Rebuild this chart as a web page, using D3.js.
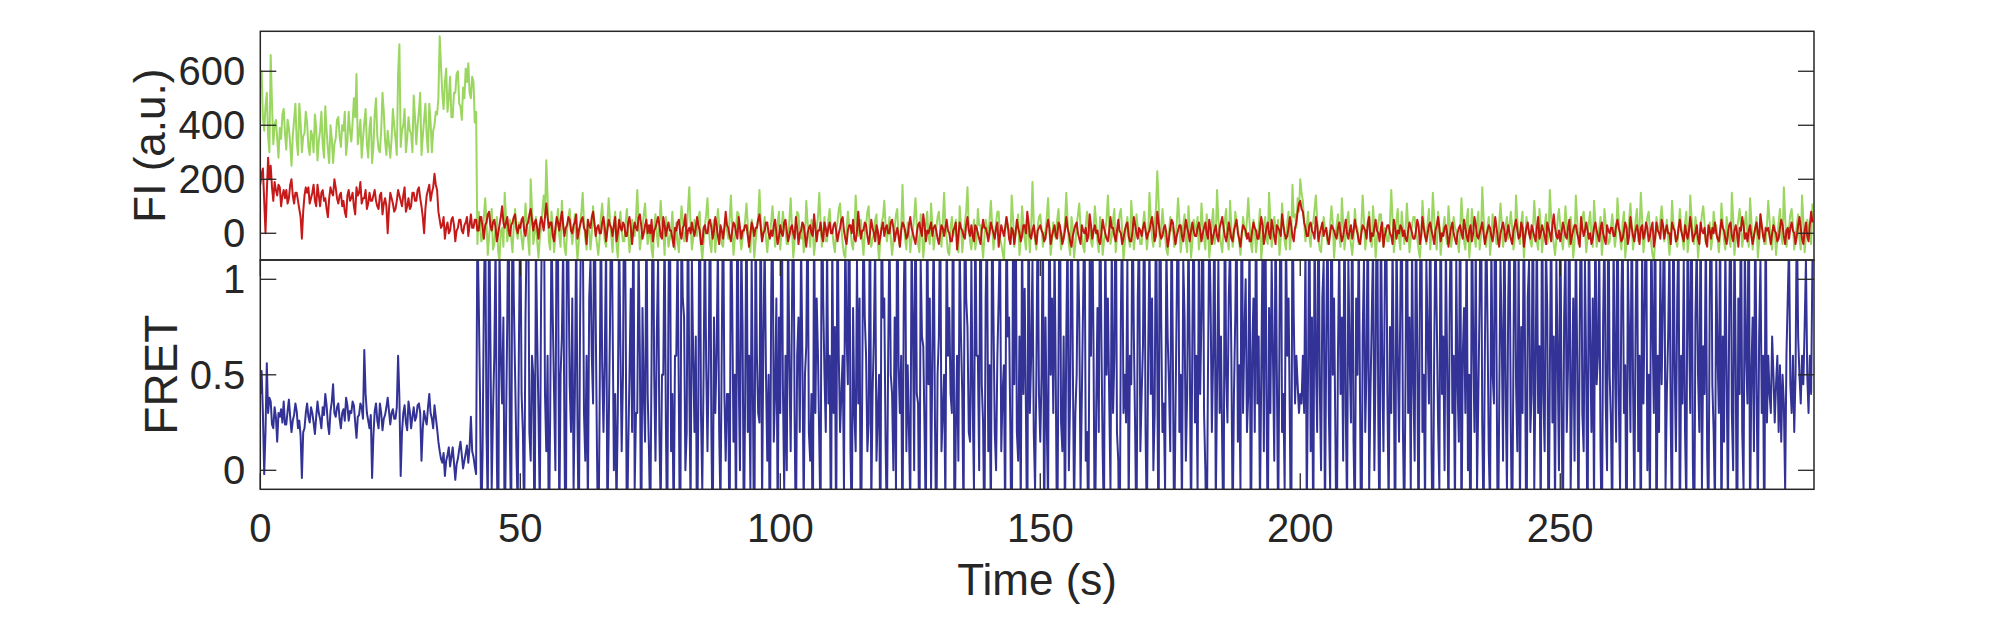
<!DOCTYPE html>
<html>
<head>
<meta charset="utf-8">
<script src="https://cdn.jsdelivr.net/npm/d3@7"></script>
<style>
html,body{margin:0;padding:0;background:#fff;}
svg{display:block;}
text{font-family:"Liberation Sans",Arial,Helvetica,sans-serif;fill:#262626;}
</style>
</head>
<body>
<svg id="chart" width="2005" height="625"></svg>
<script>
// ---- data: one row per 5 s, samples every 0.25 s ----
const rowSpan = 5;
const frameStep = 0.25;
const timeTicks = [0, 50, 100, 150, 200, 250];
const fiTicks = [0, 200, 400, 600];
const fretTicks = [0, 0.5, 1];

// donor (green) intensity, a.u.
const donorRows = [
[560,600,430,380,470,520,360,300,660,480,330,400,420,350,280,390,350,440,460,370],
[310,420,390,330,250,360,420,480,340,290,480,410,300,360,370,450,410,320,290,380],
[360,300,440,390,270,340,380,450,330,280,470,380,310,260,400,350,260,330,350,420],
[430,360,320,400,380,450,290,340,450,380,340,410,500,430,590,330,370,420,280,350],
[410,460,330,280,390,430,260,320,440,500,360,310,300,380,520,450,340,290,380,330],
[280,350,460,400,350,290,590,700,320,380,400,460,300,350,430,380,370,300,510,430],
[330,400,450,520,290,360,420,480,360,300,480,410,300,380,400,450,440,500,730,620],
[520,460,560,610,450,500,580,430,430,520,520,590,600,480,470,420,540,500,610,560],
[630,520,500,580,560,410,450,-40,80,40,-30,-20,60,130,40,-80,-10,40,90,-60],
[-40,20,60,-70,-100,10,20,-50,150,60,-30,10,50,-20,-70,30,90,10,-20,40],
[30,-20,-60,10,110,40,-20,-80,200,90,-40,0,60,-30,-90,-20,20,80,140,60],
[270,130,-30,-60,80,20,-70,-10,40,90,-10,-50,120,30,-50,-80,10,60,90,20],
[-40,20,70,-20,-100,-30,30,80,150,40,-20,-60,50,10,-60,0,100,30,0,-40],
[-80,-20,60,110,20,-30,-50,40,130,50,-10,-70,40,80,-40,-90,20,80,10,-30],
[-30,40,90,10,-70,-20,50,0,-10,60,160,40,-60,-20,20,70,110,20,-40,-10],
[30,-60,-90,20,70,0,-50,30,120,40,10,-80,60,20,-50,-20,10,80,-20,-60],
[40,-30,-70,20,100,50,-30,0,10,90,170,30,-60,-20,50,10,-10,60,80,-40],
[-100,-30,30,70,130,20,-40,-70,20,50,-70,10,90,30,0,-40,-50,20,60,10],
[-20,50,140,30,-80,-20,30,80,70,-10,-60,-20,10,50,110,30,-40,-70,50,20],
[-90,-30,20,60,160,40,-30,10,60,-20,-70,-10,0,40,100,30,-50,-20,40,80],
[-60,10,80,30,10,-40,-40,50,130,20,-90,-30,30,80,70,-10,-20,40,-70,-20],
[120,40,0,-50,50,20,-80,-30,20,60,150,40,-50,10,60,-30,-30,50,90,10],
[10,-40,-70,10,40,90,110,20,-40,-80,-90,10,80,30,20,-40,-60,10,140,40],
[-10,30,50,-20,-80,0,30,80,100,-10,-50,-20,0,50,70,-30,-100,-20,40,60],
[120,30,-30,10,60,-20,-80,-30,20,70,90,-20,-50,10,180,40,-20,-60,40,10],
[-70,-20,10,60,130,30,-40,-70,70,10,-90,-30,30,80,-10,-40,110,30,-60,-10],
[20,60,80,10,-50,40,150,30,-20,-70,-80,20,60,-10,10,50,-40,-70,100,30],
[-70,-10,40,80,170,20,-30,-60,0,50,-60,-20,90,30,30,-30,-90,-20,50,20],
[-10,50,120,30,-60,-10,40,80,80,-20,-40,-70,-100,10,60,20,10,-40,140,60],
[-50,0,30,70,-80,-20,100,40,-20,-60,50,10,-70,20,190,40,-30,-60,20,60],
[70,20,-50,-10,10,60,130,20,-80,-30,40,0,-20,50,90,10,-60,-20,0,40],
[150,50,-40,-80,60,20,-90,-40,30,70,110,20,-10,-50,-70,30,80,20,20,-30],
[-50,10,100,40,-30,-70,60,20,-80,-30,10,50,140,40,-40,-10,50,90,-70,-20],
[20,70,90,10,-100,-40,30,60,-20,-50,120,40,-60,-10,70,20,0,-40,-40,30],
[80,20,-60,-10,150,60,-20,-50,40,90,230,120,-50,10,90,30,-10,-60,-80,0],
[60,10,20,-50,-40,40,130,50,-70,-20,30,70,-30,-70,100,20,-90,-30,50,20],
[10,60,-60,-20,110,30,-20,-60,70,20,-90,-30,40,90,-40,-10,160,50,0,-40],
[-70,10,50,90,-30,-60,120,20,-50,-10,80,40,20,-30,-80,-10,60,20,-10,50],
[130,40,-40,-70,50,10,-70,-20,20,90,-100,-30,30,60,-20,-40,150,50,-50,-10],
[60,20,0,50,-80,-20,110,40,-30,-60,40,80,-60,-10,180,60,70,20,130,80],
[200,150,120,40,-30,20,80,-10,-50,30,40,90,140,50,-20,-60,-70,10,60,20],
[10,-40,-40,30,100,40,-90,-20,30,70,-10,-50,130,40,-60,-10,50,80,0,-40],
[-80,-20,90,30,20,-40,-40,30,140,50,-60,-10,40,80,-10,-50,100,20,-90,-20],
[30,70,70,-10,-50,20,10,-30,-30,40,160,50,-70,-20,50,90,-20,-60,80,20],
[-40,10,110,30,-70,-20,30,60,60,10,-20,-60,-90,-20,120,40,0,-40,40,90],
[-60,10,150,60,-30,-60,80,30,-80,-20,20,60,-10,-40,100,30,-50,-10,60,20],
[10,-30,-70,10,130,40,-30,-60,50,90,-90,-30,90,30,-10,-50,40,80,-60,-10],
[170,60,-20,-50,20,60,-80,-20,70,20,0,-40,-40,30,110,40,-50,-10,30,60],
[-20,30,80,20,-60,-20,140,50,-10,-40,40,80,-90,-20,60,20,10,-30,-50,10],
[120,40,-30,-60,90,30,-70,-10,20,70,-40,-10,160,60,0,-40,-80,-20,50,90],
[30,-20,-60,10,100,30,-20,-50,60,10,-90,-30,140,50,-40,-10,10,60,80,20],
[-70,-20,40,80,-10,-50,120,40,-50,-10,20,60,-80,-20,90,30,0,-40,-30,20],
[70,20,-50,-10,130,50,-20,-60,40,80,-90,-30,10,50,110,30,-60,-10,50,90],
[-30,20,150,50,-70,-20,20,60,80,10,-40,-80,-100,-30,60,20,0,50,100,40],
[-30,10,50,-20,-80,-20,120,40,10,-30,-50,20,90,30,-20,-60,40,80,-70,-20],
[140,60,-10,-40,60,20,-90,-30,20,70,100,40,-40,-10,0,40,-60,-20,80,30],
[30,-20,-70,-10,110,40,-30,-60,60,20,-20,-50,150,60,-80,-20,10,50,90,30],
[-50,-10,40,80,-10,-50,130,50,-60,-10,20,60,-90,-30,70,20,0,-40,-40,30],
[120,50,-30,-60,60,20,-80,-20,40,90,-10,-40,170,60,-50,-10,20,70,90,30],
[-60,-10,30,70,-20,-60,140,50,-70,-10,50,20,0,-40,110]
];

// acceptor (red) intensity, a.u.
const acceptorRows = [
[180,220,240,120,0,150,280,200,250,170,120,190,160,140,180,170,100,140,160,130],
[160,110,130,180,200,140,110,150,150,120,90,60,-20,80,140,170,150,170,110,130],
[150,180,120,100,180,140,100,150,160,120,130,90,60,130,170,150,140,200,170,130],
[110,140,150,100,120,80,60,140,160,120,130,150,100,70,170,140,150,190,110,130],
[130,160,90,110,150,120,120,140,160,120,100,90,140,150,70,110,130,100,0,90],
[150,130,110,80,90,120,160,140,120,100,140,170,80,100,130,90,100,150,150,120],
[120,160,170,130,100,60,0,90,140,160,180,120,150,170,220,180,160,80,50,20],
[30,60,-20,20,40,0,10,50,60,30,-30,10,20,50,50,10,0,30,40,60],
[-10,30,70,20,20,50,50,10,10,60,60,20,-20,30,40,70,80,30,10,40],
[50,20,-30,0,30,60,100,40,20,40,60,10,-10,30,40,60,70,20,0,30],
[20,50,60,10,-10,30,40,70,90,50,10,40,50,20,-20,30,60,40,10,60],
[110,60,20,40,40,-10,-30,20,60,40,10,50,80,30,-10,20,30,60,50,10],
[0,30,40,70,-20,10,30,50,60,20,10,-40,50,30,20,60,80,40,-10,20],
[30,0,0,40,60,20,-30,10,50,30,20,-10,30,60,-30,0,50,20,10,40],
[30,-10,-10,40,60,20,-40,10,40,20,10,60,70,30,-20,0,30,50,0,30],
[0,50,-30,10,20,40,60,30,-10,-20,60,30,-10,20,40,10,10,-20,-50,20],
[10,40,50,0,-20,20,30,70,-30,10,20,0,40,10,-10,20,60,30,10,-40],
[-40,20,30,0,0,40,50,20,-20,10,60,30,-10,-40,30,10,-20,20,80,30],
[20,-10,-30,10,40,30,0,-20,60,20,-20,10,10,30,30,-10,-50,0,40,20],
[-10,20,20,50,70,20,-30,0,10,40,40,0,-20,10,-10,30,50,0,-40,-10],
[30,0,-10,40,50,10,-30,-10,20,30,0,-20,60,20,-40,0,10,40,30,-10],
[-50,0,20,30,0,-10,70,20,-30,10,10,40,-10,-30,40,20,-10,20,40,0],
[0,30,40,10,-30,0,20,50,60,10,-20,-40,10,30,30,0,50,-20,-30,10],
[80,20,-20,10,10,40,30,-10,-40,0,50,20,0,-30,30,10,-40,-10,20,40],
[-10,20,30,0,0,40,50,20,-30,0,20,-10,-50,10,40,30,10,-20,-10,30],
[60,20,0,-20,-40,0,30,40,10,-10,70,30,-30,10,0,20,40,-10,20,30],
[10,-20,-40,0,30,20,-10,20,50,10,0,-30,-30,10,20,40,-60,-10,40,20],
[10,-10,-20,30,60,10,-10,30,-10,-30,30,20,0,-20,-40,10,50,20,20,0],
[-30,0,40,20,0,-20,20,40,-50,-10,30,10,-10,20,60,30,-20,-40,20,10],
[-40,0,50,20,0,-30,-10,30,30,0,80,40,-10,-20,10,30,-10,-40,10,20],
[30,10,0,-30,-20,20,50,20,-40,-10,10,30,-10,-20,40,30,0,-40,-20,10],
[60,20,0,-30,-50,-10,10,30,40,0,-20,-40,30,10,0,20,-30,-10,70,30],
[-20,10,30,0,10,-30,-40,0,50,20,0,-20,-30,10,60,20,20,-10,-30,10],
[50,10,0,-40,-20,10,30,40,-10,-30,-30,10,60,30,0,-20,20,10,-10,20],
[40,10,-20,0,10,40,60,20,-30,-10,80,40,0,-20,-10,20,30,0,-50,-20],
[20,50,40,0,-40,-10,10,30,30,-10,-30,10,50,20,0,-30,10,40,10,-10],
[-10,20,40,10,-30,0,20,40,0,-20,50,20,-40,-10,10,30,-10,-30,20,40],
[60,20,-10,-30,0,40,10,-20,-30,10,30,50,0,-20,-50,0,30,20,10,-20],
[0,-30,-30,10,40,20,10,-20,-20,20,60,30,-40,-10,20,40,0,-20,50,20],
[-10,-40,30,20,10,-10,70,30,0,-20,-10,20,60,30,-10,-30,20,40,80,110],
[120,90,80,40,20,-10,-10,30,40,10,0,-20,60,30,-30,0,20,40,-10,10],
[20,-20,-40,0,30,20,10,-10,-20,20,40,0,-30,-10,20,50,0,-20,10,30],
[-20,10,50,20,0,-30,-40,0,30,20,10,-20,40,60,-30,0,-10,20,50,10],
[0,-30,20,40,-50,-10,10,30,30,0,-10,-40,50,20,-20,10,0,30,20,-10],
[10,-20,-30,10,40,20,0,-20,-20,10,50,30,-40,-10,60,20,-10,-30,0,30],
[40,10,-10,-40,10,30,60,20,-30,0,-10,20,30,0,-50,-10,20,40,0,-20],
[-40,0,20,30,0,-20,50,20,-10,-30,10,30,-30,0,60,30,-10,-20,0,20],
[40,0,-40,-10,10,30,20,-10,-30,10,60,20,-20,-50,0,20,40,10,-30,0],
[30,0,-20,-40,10,30,50,10,-20,-10,40,20,-50,-10,20,40,0,-20,30,10],
[-10,-30,20,60,-20,0,30,10,-10,-40,40,20,0,-30,30,70,20,-10,-20,10],
[-30,0,40,20,-10,-20,20,50,-40,-10,10,30,30,0,-20,-50,60,20,-10,10],
[40,10,-20,0,-40,-20,20,40,10,-10,-30,20,40,0,-20,-40,30,10,0,20],
[20,-10,-10,30,50,20,0,-30,-20,10,40,20,-40,-10,60,20,-10,-30,10,30],
[0,-40,20,30,-20,0,40,20,-30,-10,20,40,-50,-20,40,10,0,-20,50,30],
[-20,10,30,0,0,-40,40,20,10,-30,-20,20,50,10,-10,-30,30,0,-20,10],
[60,20,-30,-10,0,30,-20,-40,40,10,0,20,-30,-50,30,10,-20,20,0,40],
[0,-20,-30,10,50,20,10,-20,-40,0,30,40,-10,-30,10,30,0,-50,20,10],
[60,30,-20,0,-30,10,30,-10,-40,-10,20,40,0,-20,70,30,-10,-30,20,10],
[20,-10,-40,0,30,10,0,-30,-20,20,50,30,-10,-40,10,20,-20,20,40,10],
[0,-40,-10,30,60,20,-20,-40,10,40,-10,-30,30,80,40]
];

// FRET efficiency
const fretRows = [
[0.40,0.52,0.30,-0.02,0.20,0.56,0.30,0.38,0.36,0.24,0.22,0.33,0.28,0.15,0.30,0.28,0.32,0.25,0.36,0.24],
[0.24,0.31,0.37,0.28,0.20,0.26,0.29,0.35,0.31,0.22,0.26,0.18,-0.04,0.20,0.22,0.30,0.35,0.28,0.25,0.33],
[0.30,0.25,0.19,0.28,0.36,0.30,0.27,0.22,0.33,0.29,0.40,0.34,0.24,0.19,0.31,0.36,0.45,0.30,0.28,0.33],
[0.35,0.27,0.22,0.30,0.32,0.26,0.38,0.34,0.26,0.31,0.30,0.36,0.34,0.25,0.17,0.28,0.29,0.35,0.33,0.27],
[0.63,0.40,0.30,0.26,0.22,0.29,-0.04,0.18,0.31,0.35,0.26,0.22,0.35,0.30,0.21,0.27,0.29,0.33,0.38,0.31],
[0.24,0.30,0.32,0.27,0.27,0.33,0.60,0.38,-0.03,0.20,0.30,0.34,0.25,0.21,0.36,0.31,0.22,0.28,0.33,0.26],
[0.28,0.34,0.35,0.30,0.05,0.22,0.31,0.27,0.24,0.33,0.40,0.30,0.27,0.22,0.34,0.28,0.22,0.15,0.10,0.06],
[0.04,0.09,-0.03,0.05,0.08,0.12,0.02,0.07,0.12,0.04,-0.05,0.03,0.06,0.11,0.15,0.08,0.01,0.05,0.09,0.13],
[0.04,0.12,0.28,0.10,0.07,0.02,-0.02,1.3,0.9,0.4,-0.3,0.1,0.9,1.4,0.2,-0.2,1.5,0.7,-0.1,0.3],
[0.6,1.2,0.05,-0.5,1.2,0.6,0.35,0.8,-0.4,0.2,0.8,1.6,0.15,-0.3,1.6,0.9,0.5,0.1,-0.2,0.7],
[1.4,0.4,0.2,-0.3,0.8,1.3,1.6,0.2,0.05,0.6,0.5,-0.5,1.2,0.7,0.3,-0.2,0.9,1.5,1.8,0.4],
[0.1,0.6,-0.4,0.3,1.3,0.8,0.4,0.0,1.5,1.2,-0.3,0.5,0.7,1.2,0.15,-0.6,1.6,1.1,0.45,0.2],
[0.9,-0.1,0.4,1.3,0.25,-0.4,0.8,1.5,1.4,0.3,0.05,0.6,-0.2,0.9,1.1,0.6,0.35,1.7,0.8,0.1],
[-0.5,0.3,1.4,0.55,0.2,0.6,1.2,-0.3,0.2,0.75,1.6,0.8,0.0,0.4,-0.2,0.3,1.3,0.65,0.1,0.5],
[1.8,0.9,-0.4,0.1,0.5,0.95,0.2,1.5,-0.1,0.3,0.3,1.2,0.6,-0.5,0.85,0.4,0.15,1.4,0.4,0.1],
[-0.3,0.6,1.7,0.5,0.05,0.7,1.1,0.2,-0.2,0.5,0.5,1.3,0.25,-0.4,0.9,1.6,0.1,0.4,-0.3,0.6],
[0.6,1.2,0.35,-0.6,1.4,0.9,0.8,0.0,0.2,1.5,0.45,-0.2,1.1,0.6,0.2,0.7,-0.5,0.4,1.8,0.3],
[-0.1,0.5,1.3,0.55,0.1,0.6,1.6,0.2,-0.4,0.8,0.3,0.6,1.2,0.2,-0.2,0.65,1.5,0.4,0.05,0.4],
[0.4,-0.5,1.4,0.9,0.15,0.5,-0.3,1.7,0.5,0.0,1.2,0.75,-0.4,0.4,1.5,0.2,0.6,-0.1,1.1,0.35],
[-0.6,1.4,0.6,0.3,0.25,1.6,-0.2,0.7,1.2,0.5,0.05,0.5,-0.5,0.9,1.5,0.15,0.4,0.9,-0.3,0.8],
[0.3,1.7,0.45,-0.1,0.6,0.0,1.3,0.55,0.1,0.85,1.6,0.3,-0.4,0.6,0.8,0.2,1.2,0.6,-0.2,0.5],
[0.65,1.5,0.2,0.05,0.4,-0.5,1.4,0.3,0.9,0.6,0.15,-0.3,1.7,0.9,0.5,0.2,1.2,0.35,0.6,-0.4],
[1.2,0.3,0.75,-0.4,1.5,0.6,0.2,0.4,0.6,-0.1,1.3,0.7,0.45,1.8,0.1,-0.3,0.85,0.3,0.1,1.1],
[0.35,0.9,-0.6,0.4,1.4,0.8,0.6,0.1,0.25,1.6,-0.2,0.4,0.7,1.2,0.05,0.3,0.5,-0.5,1.5,0.8],
[0.9,0.15,-0.3,0.6,1.3,0.5,0.4,0.0,0.8,-0.1,1.7,0.55,0.3,0.6,-0.4,0.9,1.4,0.1,0.55,0.2],
[-0.2,1.2,0.8,0.0,1.6,0.4,0.35,-0.5,1.1,0.7,0.65,0.2,-0.3,1.5,0.45,0.9,-0.1,0.6,1.3,0.25],
[-0.4,0.5,0.7,1.5,0.1,0.3,0.5,-0.2,1.3,0.6,0.85,0.4,0.3,1.8,-0.5,0.2,0.6,0.05,1.2,0.7],
[0.4,-0.3,1.6,0.9,0.75,0.2,0.15,1.1,0.35,-0.1,1.4,0.6,0.6,0.0,1.7,0.45,0.25,-0.4,0.9,1.3],
[0.1,0.55,-0.3,1.5,0.8,0.2,0.0,0.6,0.9,1.3,0.1,0.4,0.55,-0.3,1.5,0.7,0.8,0.2,-0.6,1.2],
[0.45,1.6,0.2,0.05,0.7,-0.2,1.3,0.4,0.95,0.3,-0.5,1.6,0.3,0.6,1.1,0.2,-0.1,0.5,1.4,0.4],
[0.15,0.5,1.4,-0.4,0.8,0.25,-0.2,1.7,0.5,0.9,0.3,1.2,0.4,-0.5,0.6,1.8,0.25,0.1,0.7,-0.3],
[0.7,1.3,0.0,0.4,1.6,0.6,-0.2,0.3,0.5,1.2,0.8,-0.1,0.4,0.9,1.5,0.05,0.2,-0.4,1.1,0.6],
[1.4,0.6,-0.5,0.3,0.85,0.2,1.6,0.7,0.1,-0.3,1.3,0.5,0.9,0.4,-0.1,1.2,0.3,0.6,1.7,0.2],
[0.05,-0.6,0.8,1.4,0.3,0.5,0.25,1.1,-0.2,0.6,0.45,1.5,0.7,0.2,-0.4,0.9,1.3,0.1,0.4,0.65],
[1.6,0.2,-0.3,0.6,1.2,0.4,0.9,0.0,0.3,1.5,0.55,-0.5,1.8,0.8,0.2,0.35,-0.1,1.2,0.7,0.45],
[0.1,1.4,0.6,-0.4,0.3,0.9,1.6,0.2,0.5,-0.2,1.1,0.8,0.05,0.4,1.3,0.6,-0.3,0.7,1.5,0.25],
[0.6,-0.1,1.2,0.4,0.8,1.7,0.3,0.0,-0.5,0.5,1.3,0.9,0.2,0.6,1.5,-0.2,0.45,1.1,0.3,0.7],
[0.1,-0.4,1.6,0.5,0.25,0.9,1.2,0.6,-0.3,0.4,0.8,1.4,0.15,0.55,-0.1,1.8,0.3,0.7,1.0,0.2],
[0.4,1.3,-0.5,0.6,0.9,0.2,1.5,0.35,0.7,-0.2,0.5,1.2,0.1,1.6,0.4,-0.4,0.85,0.3,1.1,0.6],
[0.05,1.4,0.5,-0.3,0.7,1.7,0.2,0.4,-0.1,1.3,0.6,0.9,0.25,-0.6,1.5,0.8,0.35,0.6,0.45,0.3],
[0.4,0.35,0.6,0.3,1.2,-0.2,0.5,1.5,0.1,0.8,-0.4,1.3,0.6,0.2,1.6,0.45,0.0,0.9,1.1,-0.3],
[0.7,1.4,0.3,-0.1,1.7,0.5,0.9,0.2,-0.5,0.6,1.2,0.4,0.8,0.05,1.5,0.3,-0.2,1.1,0.6,0.25],
[1.6,0.15,-0.3,0.9,0.5,1.3,0.35,-0.6,0.7,1.1,0.2,0.55,1.5,-0.1,0.4,0.8,1.2,0.0,0.6,1.8],
[0.3,-0.4,1.4,0.6,0.1,0.95,1.6,0.4,-0.2,0.75,0.3,1.2,0.5,-0.5,1.3,0.6,0.15,0.9,1.5,0.2],
[-0.3,0.5,1.7,0.3,0.8,-0.1,1.2,0.45,0.05,1.4,0.65,-0.4,0.9,1.6,0.2,0.5,-0.2,1.1,0.7,0.35],
[1.5,0.1,-0.5,0.6,1.3,0.8,0.25,-0.1,1.6,0.4,0.7,0.0,1.2,0.55,-0.3,0.9,1.4,0.3,0.6,-0.2],
[1.1,0.45,0.15,1.7,-0.4,0.6,0.85,0.3,1.3,0.0,0.5,-0.6,1.5,0.7,0.2,1.2,-0.1,0.4,0.9,1.6],
[0.25,-0.3,0.6,1.4,0.8,0.1,-0.2,1.2,0.5,0.35,1.8,0.6,-0.5,0.3,1.1,0.7,0.05,1.5,0.4,-0.1],
[0.9,1.3,0.2,-0.4,0.6,1.6,0.45,0.1,1.2,-0.2,0.75,0.3,1.5,0.55,-0.6,0.9,1.1,0.2,0.4,1.7],
[-0.1,0.5,1.3,0.3,0.65,-0.3,1.6,0.4,0.1,1.2,0.85,-0.5,0.5,1.4,0.25,0.7,-0.2,1.1,0.6,0.0],
[1.5,0.35,-0.4,0.8,1.2,0.2,0.55,1.7,-0.1,0.4,0.9,0.05,1.3,0.6,-0.3,0.75,1.6,0.3,0.1,1.1],
[0.5,-0.5,1.4,0.7,0.2,0.9,-0.2,1.5,0.45,0.6,1.2,0.1,-0.4,0.8,1.3,0.35,0.0,1.6,0.5,0.25],
[-0.3,1.2,0.6,0.15,1.7,0.4,-0.1,0.9,1.3,0.3,0.55,-0.6,1.1,0.7,0.2,1.5,0.45,-0.2,0.8,1.4],
[0.1,0.6,-0.4,1.2,0.35,0.9,1.6,0.0,0.5,-0.2,1.3,0.75,0.3,1.8,-0.5,0.6,0.2,1.1,0.45,0.9],
[1.5,-0.1,0.4,0.7,1.2,0.25,-0.3,1.6,0.55,0.1,0.9,1.3,-0.4,0.6,0.35,1.1,0.2,-0.2,1.4,0.8],
[0.3,1.7,0.05,-0.5,0.8,1.2,0.5,0.2,1.5,-0.1,0.65,0.4,1.3,0.1,-0.3,0.9,1.6,0.45,0.2,-0.2],
[1.1,0.6,0.3,1.4,-0.4,0.7,0.15,1.2,0.5,-0.2,0.85,1.6,0.3,0.0,1.3,0.55,-0.6,0.9,0.4,1.5],
[0.2,-0.1,1.2,0.6,0.35,1.7,-0.3,0.5,0.8,0.1,1.4,0.45,-0.2,0.7,1.1,0.3,0.6,-0.5,1.5,0.25],
[0.6,0.4,0.3,0.7,0.5,0.25,0.45,0.6,0.2,0.55,0.15,0.5,0.35,-0.1,0.6,0.9,1.2,0.45,0.3,0.6],
[0.2,0.5,1.4,0.7,0.5,0.35,0.6,0.45,0.75,1.1,0.5,0.3,0.6,0.4,1.1]
];

// flatten rows into [time, value] points (time from row index and sample index)
function toPoints(rows) {
  const pts = [];
  rows.forEach((row, r) => row.forEach((v, j) => pts.push([r * rowSpan + j * frameStep, v])));
  return pts;
}
const donor = toPoints(donorRows);
const acceptor = toPoints(acceptorRows);
const fret = toPoints(fretRows);

// ---- layout ----
const L = 260.3, R = 1814, T1 = 31.3, B1 = 260, T2 = 260, B2 = 489.3;
const ink = "#262626";
const svg = d3.select("#chart");

const x = d3.scaleLinear().domain([0, 298.8]).range([L, R]);
const y1 = d3.scaleLinear().domain([-99, 748]).range([B1, T1]);
const y2 = d3.scaleLinear().domain([-0.0995, 1.101]).range([B2, T2]);

const defs = svg.append("defs");
defs.append("clipPath").attr("id", "c1").append("rect")
  .attr("x", L).attr("y", T1).attr("width", R - L).attr("height", B1 - T1);
defs.append("clipPath").attr("id", "c2").append("rect")
  .attr("x", L).attr("y", T2).attr("width", R - L).attr("height", B2 - T2);

function drawLine(data, yScale, clip, color, width, opacity) {
  const line = d3.line().x(d => x(d[0])).y(d => yScale(d[1]));
  svg.append("path").datum(data)
    .attr("clip-path", `url(#${clip})`)
    .attr("d", line)
    .attr("fill", "none")
    .attr("stroke", color)
    .attr("stroke-width", width)
    .attr("stroke-opacity", opacity)
    .attr("stroke-linejoin", "round");
}

drawLine(donor, y1, "c1", "#8fd14f", 2, 0.9);
drawLine(acceptor, y1, "c1", "#c00000", 2, 0.9);
drawLine(fret, y2, "c2", "#1c1c8c", 2, 0.9);

// ---- axes ----
function panelAxes(yScale, top, bottom, yTicks, showX) {
  const tl = 16;
  const g = svg.append("g");
  yTicks.forEach(v => {
    const yy = yScale(v);
    g.append("line").attr("x1", L).attr("x2", L + tl).attr("y1", yy).attr("y2", yy)
      .attr("stroke", ink).attr("stroke-width", 1.3);
    g.append("line").attr("x1", R - tl).attr("x2", R).attr("y1", yy).attr("y2", yy)
      .attr("stroke", ink).attr("stroke-width", 1.3);
    g.append("text").attr("x", L - 15).attr("y", yy + 14)
      .attr("text-anchor", "end").attr("font-size", 40).text(v);
  });
  if (showX) {
    timeTicks.forEach(v => {
      const xx = x(v);
      g.append("line").attr("x1", xx).attr("x2", xx).attr("y1", bottom).attr("y2", bottom - tl)
        .attr("stroke", ink).attr("stroke-width", 1.3);
      g.append("line").attr("x1", xx).attr("x2", xx).attr("y1", top).attr("y2", top + tl)
        .attr("stroke", ink).attr("stroke-width", 1.3);
      g.append("text").attr("x", xx).attr("y", 541.7)
        .attr("text-anchor", "middle").attr("font-size", 40).text(v);
    });
  }
  g.append("rect").attr("x", L).attr("y", top).attr("width", R - L).attr("height", bottom - top)
    .attr("fill", "none").attr("stroke", ink).attr("stroke-width", 1.5);
}

panelAxes(y1, T1, B1, fiTicks, false);
panelAxes(y2, T2, B2, fretTicks, true);

// ---- labels ----
svg.append("text").attr("transform", `translate(165,${(T1 + B1) / 2}) rotate(-90)`)
  .attr("text-anchor", "middle").attr("font-size", 44).text("FI (a.u.)");
svg.append("text").attr("transform", `translate(177,${(T2 + B2) / 2}) rotate(-90)`)
  .attr("text-anchor", "middle").attr("font-size", 46).text("FRET");
svg.append("text").attr("x", (L + R) / 2).attr("y", 595)
  .attr("text-anchor", "middle").attr("font-size", 44).text("Time (s)");
</script>
</body>
</html>
